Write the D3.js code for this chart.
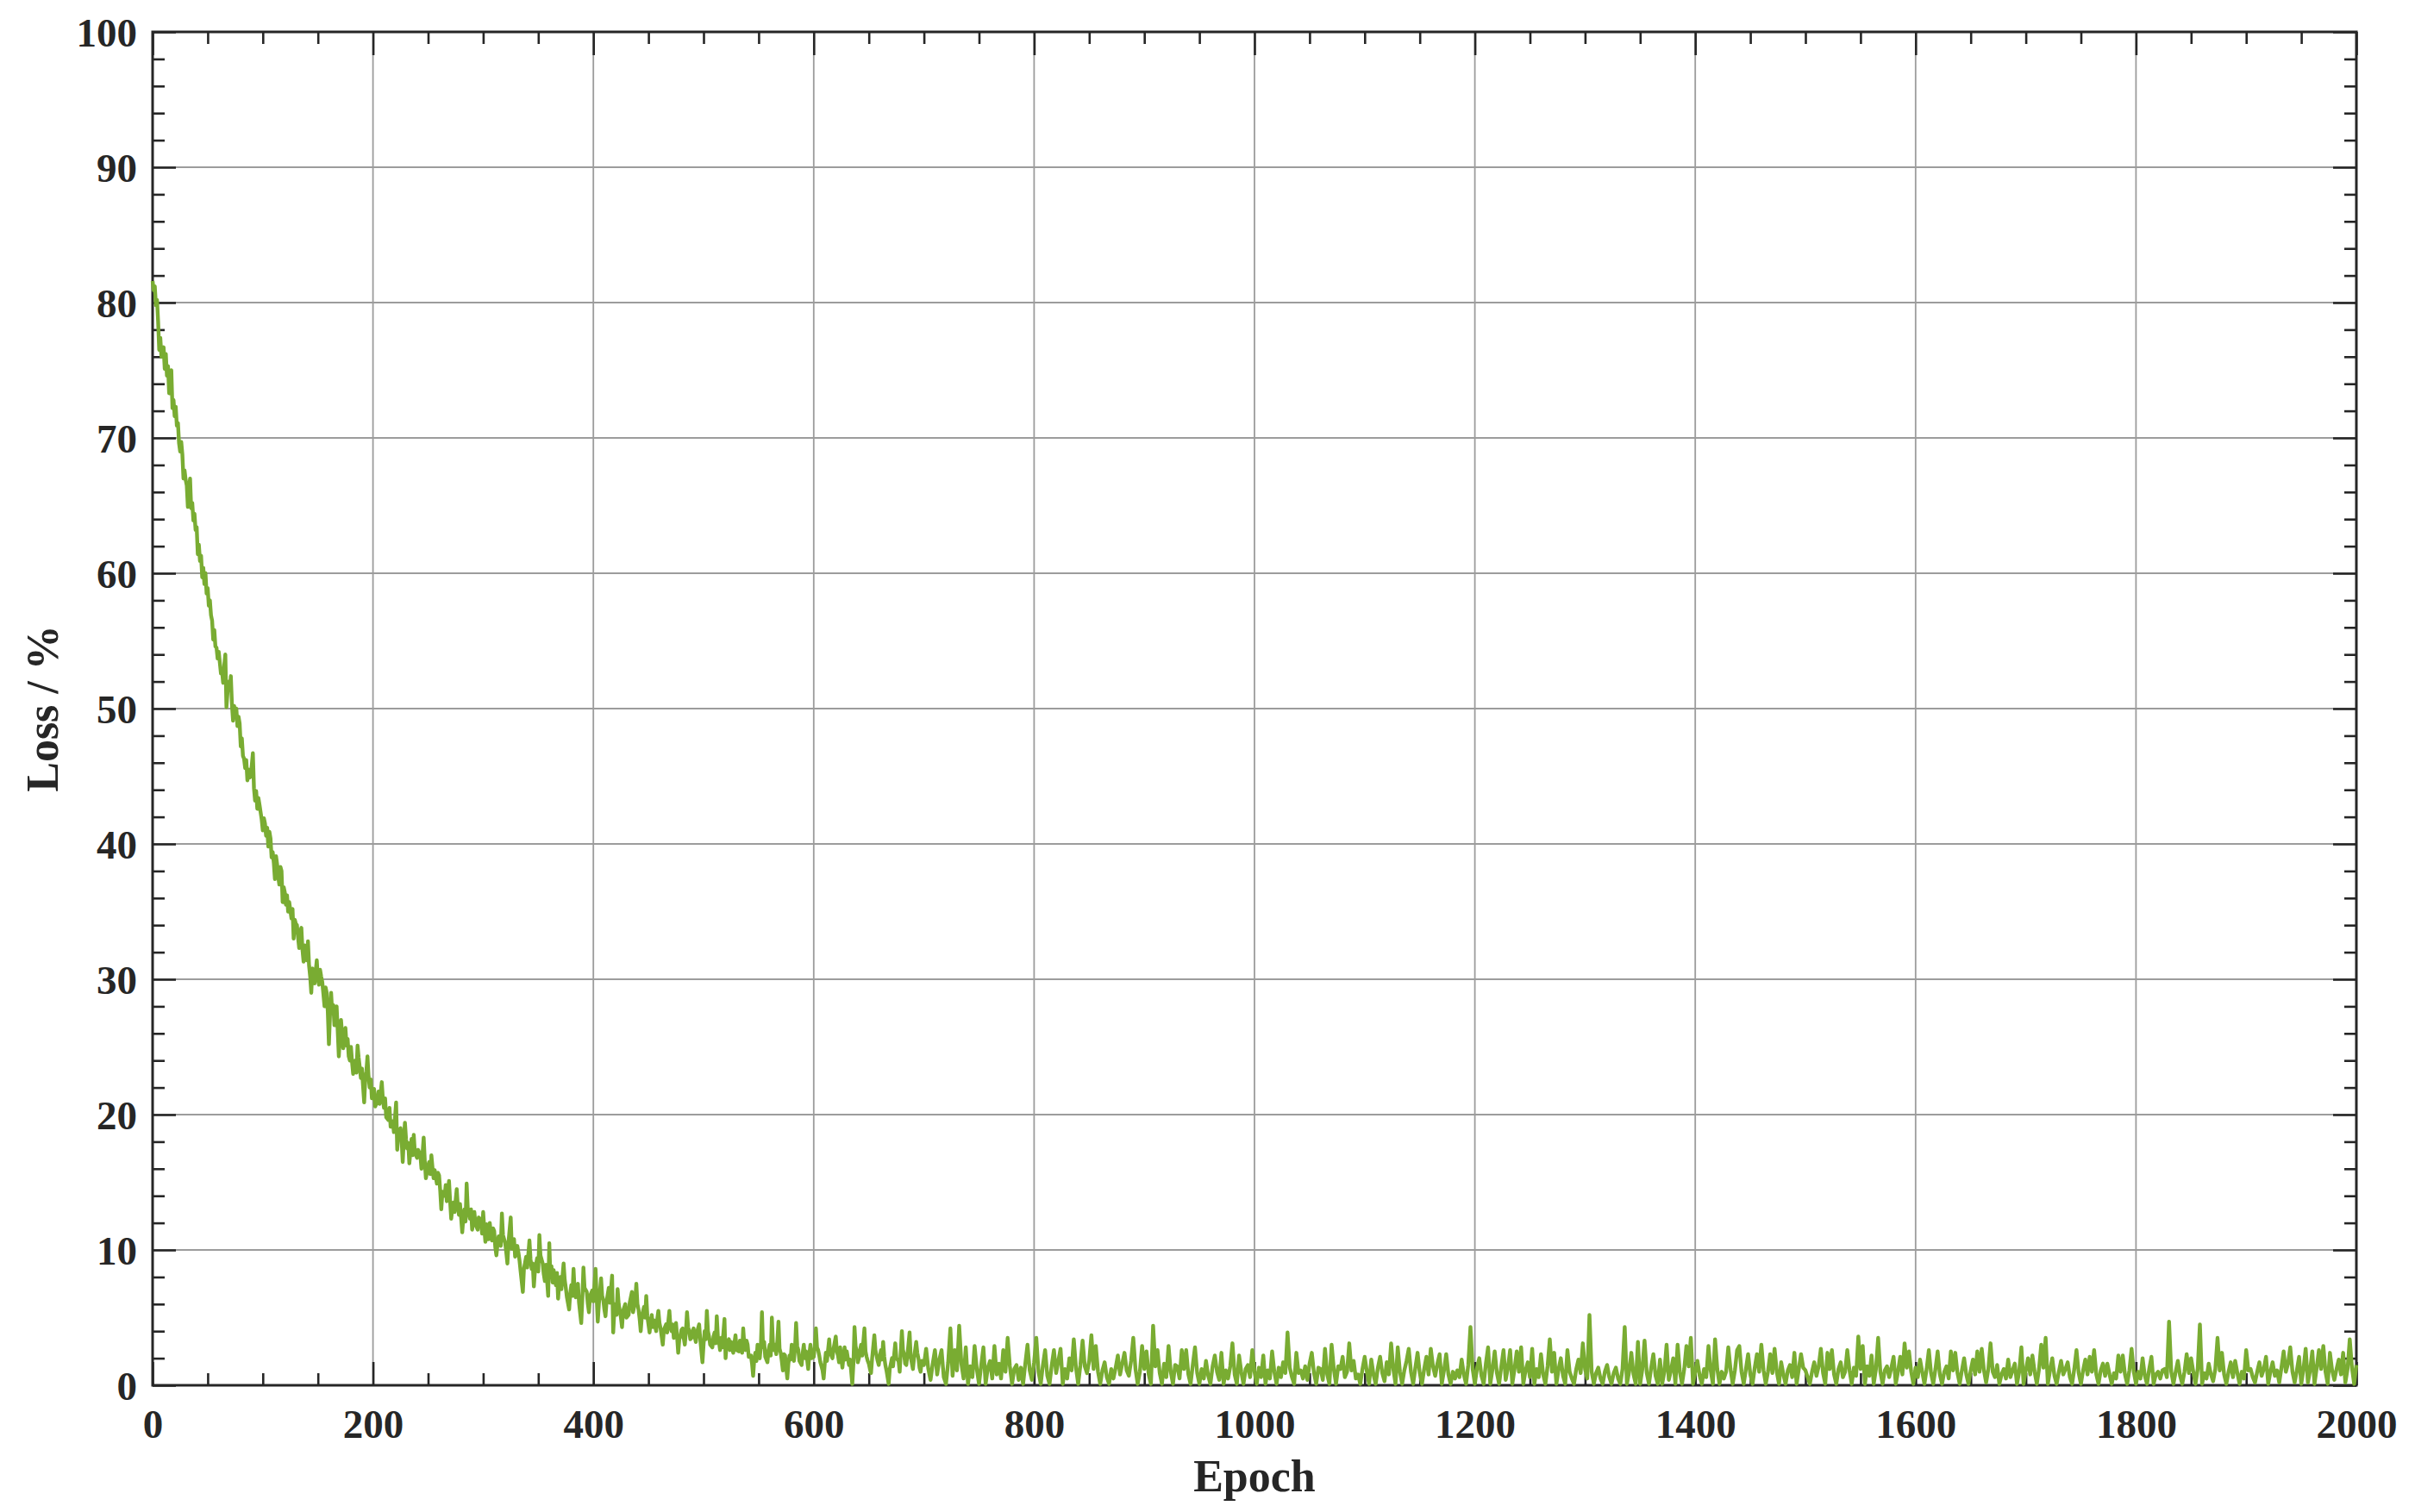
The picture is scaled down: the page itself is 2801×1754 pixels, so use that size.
<!DOCTYPE html>
<html>
<head>
<meta charset="utf-8">
<script src="https://cdn.jsdelivr.net/npm/d3@7"></script>
<style>
  html, body { margin: 0; padding: 0; background: #fff; }
  svg { display: block; }
  text { font-family: "Liberation Serif", "Times New Roman", serif; font-weight: bold; fill: #262626; }
</style>
</head>
<body>
<div id="chart"></div>
<script>
// tick labels
var xTicks = [0, 200, 400, 600, 800, 1000, 1200, 1400, 1600, 1800, 2000];
var yTicks = [0, 10, 20, 30, 40, 50, 60, 70, 80, 90, 100];

// loss curve, [epoch, loss %]
var lossStart = [[0,81.6],[1,80.9],[2,81.2],[3,79.8],[4,80.2],[5,78.6],[6,76.5],[7,77.4],[8,76.0],[9,76.3],[10,76.7],[11,75.1],[12,76.2],[13,74.6],[14,75.3],[15,73.3],[16,74.2],[17,75.0],[18,72.2],[19,72.8],[20,71.6],[21,72.3],[22,70.9],[23,71.1],[24,69.6],[25,69.0],[26,69.7],[27,68.8],[28,67.0],[29,67.6],[30,66.9],[31,66.5],[32,64.9],[33,66.2],[34,67.0],[35,64.8],[36,65.2],[37,63.9],[38,64.4],[39,63.2],[40,63.4],[41,61.4],[42,62.1],[43,60.9],[44,61.3],[45,59.7],[46,60.4],[47,59.2],[48,60.0],[49,58.5],[50,58.9],[51,57.6],[52,58.0],[53,56.9],[54,56.5],[55,55.1],[56,55.8],[57,54.6],[58,54.5],[59,53.7],[60,54.2],[61,53.4],[62,52.6],[63,52.8],[64,51.9],[65,53.2],[66,54.0],[67,50.1],[68,51.2],[69,52.0],[70,51.4],[71,52.4],[72,50.3],[73,49.1],[74,50.2],[75,49.6],[76,50.0],[77,48.7],[78,49.4],[79,48.9],[80,47.2],[81,47.8],[82,46.5],[83,46.3],[84,45.6],[85,46.2],[86,44.7],[87,45.5],[88,44.9],[89,45.0],[90,45.8],[91,46.7],[92,44.1],[93,43.2],[94,43.9],[95,42.6],[96,43.4],[97,42.9]];

var lossFast = [[99,41.8],[100,41.0],[101,41.9],[102,41.5],[103,40.6],[104,41.2],[105,39.8],[106,40.9],[107,40.4],[108,39.0],[109,39.4],[110,38.6],[111,37.4],[112,39.1],[113,38.5],[114,37.6],[115,37.0],[116,38.3],[117,38.0],[118,35.7],[119,36.8],[120,36.4],[121,35.5],[122,36.2],[123,35.0],[124,35.7],[125,35.1],[126,34.5],[127,35.2],[128,33.0],[129,34.4],[130,34.1],[131,34.0],[132,33.1],[133,32.3],[134,33.5],[135,33.8],[136,32.2],[137,31.3],[138,32.5],[139,32.0],[140,31.4],[141,32.8],[142,31.0],[143,30.2],[144,29.0],[145,30.8],[146,30.5],[147,29.7],[148,30.6],[149,31.4],[150,30.1],[151,29.6],[152,30.7],[153,30.2],[154,29.8],[155,28.9],[156,28.0],[157,29.4],[158,29.0],[159,27.6],[160,25.2],[161,27.4],[162,29.0],[163,27.5],[164,28.1],[165,26.6],[166,27.3],[167,28.0],[168,26.2],[169,24.3],[170,25.8],[171,27.0],[172,25.9],[173,24.9],[174,25.6],[175,26.4],[176,25.1],[177,25.6],[178,24.3],[179,24.0],[180,25.0],[181,23.9],[182,23.0],[183,23.8],[184,24.0],[185,23.1],[186,25.1],[187,24.2],[188,23.5],[189,22.7],[190,23.4],[191,22.1],[192,20.9],[193,22.6],[194,23.2],[195,24.3],[196,22.8],[197,22.0],[198,22.6],[199,21.2],[200,21.5],[201,21.9],[202,20.6],[204,21.0],[205,21.7],[206,20.8],[208,22.4],[209,21.1],[210,20.5],[211,21.2],[212,19.8],[214,19.6],[215,20.5],[216,19.1],[218,19.5],[219,18.7],[221,20.9],[222,17.4],[223,18.5],[225,19.0],[226,18.1],[227,16.5],[228,18.2],[229,19.4],[230,18.2],[231,17.5],[232,17.9],[233,16.4],[234,17.3],[235,18.2],[236,17.0],[237,18.5],[238,17.2],[240,16.8],[241,17.4],[243,17.0],[244,16.0],[246,18.3],[247,16.6],[248,15.3],[250,16.2],[251,16.5],[252,15.6],[253,17.0],[254,16.1],[255,15.3],[256,15.9],[258,14.9],[259,15.7],[260,15.5],[261,14.4],[262,13.0],[263,14.3],[265,14.0],[266,14.8],[267,13.6],[268,14.2],[269,15.1],[270,13.6],[271,12.3],[272,13.1],[273,13.5],[274,12.8],[276,14.5],[277,13.2],[278,12.6],[279,13.4],[281,11.3],[282,12.4],[283,13.0],[284,12.1],[285,14.9],[286,13.1],[288,12.3],[289,13.0],[290,11.5],[291,12.1],[292,12.8],[293,11.9],[295,11.5],[296,12.4],[298,12.2],[299,11.2]];

var lossSlow = [[300,12.8],[301,11.6],[302,10.6],[303,11.9],[304,11.5],[305,10.8],[306,12.0],[307,11.2],[308,10.7],[309,11.6],[310,11.4],[311,10.2],[312,9.6],[313,10.4],[314,11.0],[316,10.3],[317,12.7],[318,11.1],[320,10.5],[321,9.8],[322,9.0],[323,10.6],[325,12.4],[326,10.1],[328,10.8],[329,9.5],[331,10.3],[332,9.8],[333,9.2],[334,8.4],[336,6.9],[337,8.6],[339,9.5],[340,8.7],[342,10.7],[343,9.3],[344,8.6],[345,9.0],[346,7.3],[347,8.5],[349,9.4],[350,8.4],[351,11.1],[352,9.6],[354,9.0],[355,8.2],[356,7.7],[357,8.9],[359,6.6],[360,10.5],[361,8.1],[362,8.8],[363,7.6],[364,8.5],[365,7.9],[366,7.4],[367,8.3],[368,6.4],[369,7.5],[370,8.0],[371,7.1],[373,9.0],[374,7.8],[375,7.2],[376,6.5],[378,5.6],[379,6.8],[380,7.4],[381,6.6],[382,8.6],[383,7.0],[384,6.5],[385,7.3],[386,7.5],[387,6.1],[389,4.6],[390,6.4],[391,8.7],[392,7.2],[394,6.9],[395,6.0],[396,5.4],[397,6.6],[399,7.0],[400,6.2],[402,8.6],[403,6.5],[404,4.7],[405,6.0],[407,7.9],[408,6.6],[409,6.3],[410,5.6],[411,5.1],[412,6.2],[414,7.2],[415,6.1],[417,8.1],[418,3.9],[419,5.4],[420,6.0],[421,5.2],[422,7.1],[423,6.0],[424,5.5],[425,5.0],[426,4.3],[427,5.5],[429,6.0],[430,5.0],[432,5.2],[433,6.1],[435,6.9],[436,5.4],[437,5.8],[438,6.3],[439,7.5],[440,6.0],[441,5.6],[442,4.9],[443,4.0],[444,5.1],[446,5.8],[447,5.0],[448,6.6],[449,5.1],[451,3.9],[452,4.7],[453,5.2],[454,4.3],[455,4.8],[456,4.4],[457,4.0],[458,4.9],[459,5.5],[460,4.6],[461,4.2],[462,3.6],[463,3.0],[464,4.1],[466,4.5],[467,3.9],[469,5.5],[470,4.3],[471,4.0],[472,4.5],[473,3.5],[474,4.2],[475,4.6],[476,3.6],[477,2.4],[478,3.4],[479,3.6],[480,4.1],[481,4.2],[482,3.5],[483,3.0],[484,4.0],[485,5.4],[486,4.3],[487,4.0],[488,3.4],[489,3.5],[490,4.0],[491,4.2],[492,3.6],[493,3.2],[494,3.9],[496,4.5],[497,3.4],[499,1.7],[500,3.0]];

var lossSettle = [[501,4.0],[502,3.4],[503,5.5],[504,4.0],[505,3.6],[506,3.0],[508,2.8],[509,3.6],[510,3.9],[511,3.1],[512,5.1],[513,3.6],[514,3.2],[515,2.6],[516,3.5],[517,2.8],[519,4.9],[520,2.0],[521,3.0],[523,3.4],[524,2.6],[525,3.2],[526,2.7],[527,2.4],[528,3.1],[529,3.7],[530,2.6],[532,2.5],[533,3.3],[534,3.1],[535,2.4],[536,4.2],[537,3.0],[538,2.6],[539,3.3],[540,3.0],[541,2.1],[543,2.2],[544,1.6],[545,0.7],[546,1.9],[547,2.4],[548,1.8],[549,3.0],[550,2.2],[551,2.0],[552,2.9],[553,5.4],[554,2.8],[555,3.2],[556,2.1],[558,1.7],[559,2.6],[560,3.0],[561,2.2],[562,5.0],[563,3.1],[564,2.6],[565,3.0],[566,2.3],[567,3.3],[568,4.7],[569,2.7],[570,2.4],[571,1.8],[572,1.1],[573,2.3],[574,2.2],[575,1.3],[576,0.5],[577,1.6],[578,2.2],[579,1.9],[580,3.0],[581,2.1],[582,1.8],[583,2.7],[584,4.6],[585,2.9],[586,2.6],[587,1.8],[589,1.5],[590,2.4],[591,3.0],[592,2.0],[593,2.5],[594,1.9],[595,1.2],[596,2.3],[597,3.0],[598,2.0],[600,2.1],[601,2.9],[602,4.2],[603,2.8],[604,2.6],[605,2.2],[606,1.7],[607,1.4],[608,1.1],[609,0.5],[610,1.6],[611,2.4],[612,1.8],[614,3.4],[615,2.4],[617,2.0],[618,2.7],[620,3.6],[621,2.5],[622,2.2],[623,1.7],[624,2.8],[625,2.0],[626,1.3],[627,2.1],[628,2.8],[629,1.9],[630,2.5],[631,2.0],[632,1.5],[633,1.9],[635,0.1],[636,1.6],[637,4.3],[638,2.9],[639,2.5],[640,1.7],[641,2.0],[642,2.6],[643,3.0],[644,2.2],[646,4.2],[647,2.5],[648,2.1],[649,1.8],[650,1.6],[651,1.2],[652,0.9],[653,2.0],[655,3.7],[656,2.6],[657,2.2],[658,1.8],[659,1.5],[660,2.1],[661,2.6],[662,1.9],[663,3.2],[664,2.1],[665,1.5],[666,1.1],[668,0.1],[669,1.2],[671,2.0],[672,1.4],[674,3.1],[675,2.0],[677,1.8],[678,1.0],[680,4.0],[681,2.6],[682,2.3],[683,1.6],[684,1.5],[685,2.2],[687,3.9],[688,2.1],[690,1.2],[691,2.0],[693,3.2],[694,2.4],[695,2.0],[696,1.3],[697,1.0],[698,1.8]];

// plateau, one reading every 2 epochs from epoch 700
var tailFirstEpoch = 700;
var tailStep = 2;
var lossTail = [
  1.5,2.7,1.2,0.4,1.6,2.6,0.8,1.9,2.6,0.6, // 700
  0.1,1.7,4.2,0.7,2.6,1.1,4.4,1.6,0.5,2.8, // 720
  0.1,1.4,0.6,2.9,1.2,0.1,1.5,2.8,0.1,1.3, // 740
  1.8,0.5,2.9,0.8,1.6,0.5,2.6,1.0,3.5,1.4, // 760
  0.1,1.2,1.5,0.4,1.3,0.1,1.6,3.0,1.1,0.4, // 780
  1.7,3.5,1.0,0.1,1.5,2.6,0.7,0.1,1.5,2.6, // 800
  0.9,1.8,2.7,0.1,1.2,0.5,2.0,1.1,3.4,1.3, // 820
  0.1,1.5,3.3,1.4,0.9,1.8,3.7,1.2,2.9,1.0, // 840
  0.1,1.1,1.7,0.6,0.1,1.2,0.5,1.3,2.2,0.8, // 860
  1.6,2.4,1.1,0.7,1.8,3.5,1.2,0.1,1.0,2.9, // 880
  1.2,2.5,0.8,0.1,4.4,1.4,2.6,0.9,0.1,1.6, // 900
  0.6,2.9,1.0,0.1,1.5,1.4,0.5,2.6,1.2,2.6, // 920
  0.8,0.1,1.5,2.8,0.9,0.1,1.2,0.5,1.8,0.7, // 940
  0.1,1.4,2.2,1.0,0.4,2.4,0.1,1.1,0.5,1.4, // 960
  3.1,0.8,0.1,2.2,1.0,0.1,1.2,1.5,0.6,2.6, // 980
  1.0,0.1,1.3,0.6,2.2,0.1,1.1,0.5,2.5,1.0, // 1000
  0.1,1.3,0.6,1.7,0.9,3.9,1.3,0.6,0.1,2.4, // 1020
  0.9,1.1,0.5,1.4,0.4,1.6,2.4,0.9,0.1,1.3, // 1040
  1.2,0.4,2.7,0.8,0.1,3.0,1.2,0.1,1.4,1.2, // 1060
  2.1,0.6,1.0,3.1,1.1,1.8,0.5,0.8,0.1,1.2, // 1080
  2.1,1.0,0.1,1.9,0.8,0.1,1.3,2.1,0.9,0.3, // 1100
  1.7,0.8,3.1,1.2,0.1,2.8,1.0,0.1,1.1,1.8, // 1120
  2.7,1.0,0.1,1.3,2.4,0.9,0.1,1.2,2.1,0.8, // 1140
  2.7,1.4,0.7,1.6,2.3,0.1,1.1,2.3,0.8,0.1, // 1160
  1.0,0.5,1.1,0.6,1.9,0.8,0.1,1.5,4.3,1.2, // 1180
  0.1,1.3,2.0,0.7,0.1,1.6,2.8,0.1,1.2,2.5, // 1200
  0.9,0.1,1.4,2.6,0.4,1.3,2.6,0.1,1.2,2.5, // 1220
  1.0,2.8,0.1,1.1,1.7,0.6,2.7,0.1,1.2,0.6, // 1240
  2.3,0.8,0.1,1.4,3.4,1.0,2.4,0.1,1.2,2.0, // 1260
  0.7,0.1,2.6,1.0,0.5,0.1,1.2,1.9,0.9,3.1, // 1280
  1.2,0.5,5.2,1.0,0.1,0.9,1.3,0.5,0.1,1.0, // 1300
  1.5,0.6,0.1,0.9,1.3,0.5,0.1,1.2,4.3,0.1, // 1320
  1.0,2.4,0.8,0.1,3.2,0.1,1.2,3.3,0.9,0.1, // 1340
  1.3,2.3,0.7,0.1,1.9,0.1,1.0,3.0,0.4,1.1, // 1360
  2.0,0.1,3.0,1.0,0.1,1.2,2.9,1.4,3.5,0.1, // 1380
  1.0,1.8,0.7,0.1,1.2,0.6,2.9,1.1,0.1,3.4, // 1400
  1.2,0.1,1.0,0.5,1.0,2.8,1.2,0.1,1.1,2.6, // 1420
  2.9,1.0,0.1,1.2,2.3,0.8,0.1,1.3,2.3,1.0, // 1440
  3.0,1.1,0.1,1.0,2.3,0.9,2.7,1.0,0.1,1.7, // 1460
  0.8,0.1,1.1,1.5,0.6,2.4,0.1,1.2,2.3,1.3, // 1480
  1.1,0.6,0.1,1.0,1.7,0.7,1.4,2.7,0.9,0.1, // 1500
  2.4,1.2,2.6,0.8,0.1,1.2,1.7,0.6,1.0,2.6, // 1520
  1.1,0.1,1.3,0.7,3.6,1.2,2.9,0.1,1.4,0.7, // 1540
  2.2,0.1,1.2,3.5,1.0,0.1,1.1,1.4,0.6,1.3, // 1560
  2.1,0.1,1.0,2.1,0.8,3.1,1.3,2.5,1.0,0.1, // 1580
  1.3,0.6,1.9,1.0,0.1,1.2,2.6,0.9,0.1,1.2, // 1600
  2.5,0.8,0.1,1.0,1.4,0.5,2.5,1.1,2.4,0.9, // 1620
  0.1,1.1,2.0,0.8,0.1,1.1,1.9,0.8,2.5,1.0, // 1640
  2.7,1.1,0.2,1.2,3.1,1.0,0.6,1.5,0.1,0.8, // 1660
  1.2,0.5,1.9,0.6,1.1,1.6,0.1,1.0,2.8,0.1, // 1680
  1.1,2.0,0.8,2.2,1.0,0.1,1.2,3.0,1.3,3.5, // 1700
  0.1,1.1,2.0,0.7,0.1,1.0,1.8,0.8,1.2,1.7, // 1720
  0.6,0.1,1.2,2.6,0.9,0.1,1.1,1.9,0.8,2.1, // 1740
  1.0,2.6,0.8,0.1,1.1,1.6,0.7,1.6,0.8,0.1, // 1760
  0.9,0.5,2.2,1.0,2.2,0.8,0.1,1.1,2.7,1.0, // 1780
  0.1,1.0,0.5,2.0,0.7,0.1,1.2,2.1,0.1,0.8, // 1800
  1.0,0.5,1.1,1.2,0.6,4.7,1.0,0.1,1.0,1.8, // 1820
  0.7,0.1,1.0,2.3,0.9,2.0,1.0,0.1,1.2,4.5, // 1840
  0.1,0.9,0.5,1.6,0.8,0.3,1.2,3.5,1.1,2.4, // 1860
  0.8,0.1,1.0,1.7,0.6,1.8,0.9,0.1,1.0,0.5, // 1880
  2.6,1.1,1.2,0.6,0.2,1.0,1.7,0.7,1.2,2.1, // 1900
  0.1,1.0,1.7,0.7,1.1,0.2,1.3,2.5,1.0,1.6, // 1920
  2.8,1.0,0.2,1.1,2.1,0.1,1.2,2.7,0.2,1.1, // 1940
  2.5,0.1,1.3,2.6,1.2,2.9,1.0,0.1,2.4,1.1, // 1960
  0.4,1.2,1.9,0.8,2.4,0.2,1.2,3.4,1.3,0.1, // 1980
  1.5                                      // 2000
];

var lossData = [].concat(lossStart, lossFast, lossSlow, lossSettle,
  lossTail.map((v, i) => [tailFirstEpoch + i * tailStep, v]));

var width = 2801;
var height = 1754;
var margin = { top: 37, right: 68, bottom: 147, left: 177 };
var plotW = width - margin.left - margin.right;
var plotH = height - margin.top - margin.bottom;

var ink = "#262626";

var svg = d3.select("#chart")
  .append("svg")
  .attr("width", width)
  .attr("height", height);

svg.append("rect").attr("width", width).attr("height", height).attr("fill", "#fff");

var g = svg.append("g").attr("transform", "translate(" + margin.left + "," + margin.top + ")");

var x = d3.scaleLinear().domain([0, 2000]).range([0, plotW]);
var y = d3.scaleLinear().domain([0, 100]).range([plotH, 0]);

// grid
g.append("g")
  .selectAll("line")
  .data(xTicks.slice(1, -1))
  .enter()
  .append("line")
  .attr("x1", d => x(d)).attr("x2", d => x(d))
  .attr("y1", 0).attr("y2", plotH)
  .attr("stroke", "#9c9c9c")
  .attr("stroke-width", 1.8);

g.append("g")
  .selectAll("line")
  .data(yTicks.slice(1, -1))
  .enter()
  .append("line")
  .attr("y1", d => y(d)).attr("y2", d => y(d))
  .attr("x1", 0).attr("x2", plotW)
  .attr("stroke", "#9c9c9c")
  .attr("stroke-width", 1.8);

var xMinor = d3.range(0, 2001, 50).filter(d => d % 200 !== 0);
var yMinor = d3.range(0, 101, 2).filter(d => d % 10 !== 0);

function styleAxis(sel) {
  sel.select(".domain").remove();
  sel.selectAll(".tick line").attr("stroke", ink).attr("stroke-width", 2.6);
}

// bottom
var bottom = g.append("g").attr("transform", "translate(0," + plotH + ")")
  .call(d3.axisBottom(x).tickValues(xTicks).tickSize(-27).tickFormat(d3.format("d")));
styleAxis(bottom);
bottom.selectAll("text")
  .attr("y", 61).attr("dy", null)
  .style("font-size", "47px");
g.append("g").attr("transform", "translate(0," + plotH + ")")
  .call(d3.axisBottom(x).tickValues(xMinor).tickSize(-14).tickFormat(""))
  .call(styleAxis);

// top
g.append("g")
  .call(d3.axisTop(x).tickValues(xTicks).tickSize(-27).tickFormat(""))
  .call(styleAxis);
g.append("g")
  .call(d3.axisTop(x).tickValues(xMinor).tickSize(-14).tickFormat(""))
  .call(styleAxis);

// left
var left = g.append("g")
  .call(d3.axisLeft(y).tickValues(yTicks).tickSize(-27).tickFormat(d3.format("d")));
styleAxis(left);
left.selectAll("text")
  .attr("x", -18).attr("dy", "0.35em")
  .style("font-size", "47px");
g.append("g")
  .call(d3.axisLeft(y).tickValues(yMinor).tickSize(-14).tickFormat(""))
  .call(styleAxis);

// right
g.append("g").attr("transform", "translate(" + plotW + ",0)")
  .call(d3.axisRight(y).tickValues(yTicks).tickSize(-27).tickFormat(""))
  .call(styleAxis);
g.append("g").attr("transform", "translate(" + plotW + ",0)")
  .call(d3.axisRight(y).tickValues(yMinor).tickSize(-14).tickFormat(""))
  .call(styleAxis);

// frame
g.append("rect")
  .attr("width", plotW).attr("height", plotH)
  .attr("fill", "none")
  .attr("stroke", ink)
  .attr("stroke-width", 3);

// loss line
var line = d3.line()
  .x(d => x(d[0]))
  .y(d => y(d[1]));

g.append("path")
  .datum(lossData)
  .attr("d", line)
  .attr("fill", "none")
  .attr("stroke", "#79ac32")
  .attr("stroke-width", 4.4)
  .attr("stroke-linejoin", "round");

// axis titles
svg.append("text")
  .attr("x", margin.left + plotW / 2)
  .attr("y", 1730)
  .attr("text-anchor", "middle")
  .style("font-size", "52px")
  .text("Epoch");

svg.append("text")
  .attr("transform", "translate(67," + (margin.top + plotH / 2) + ") rotate(-90)")
  .attr("text-anchor", "middle")
  .style("font-size", "52px")
  .text("Loss / %");
</script>
</body>
</html>
